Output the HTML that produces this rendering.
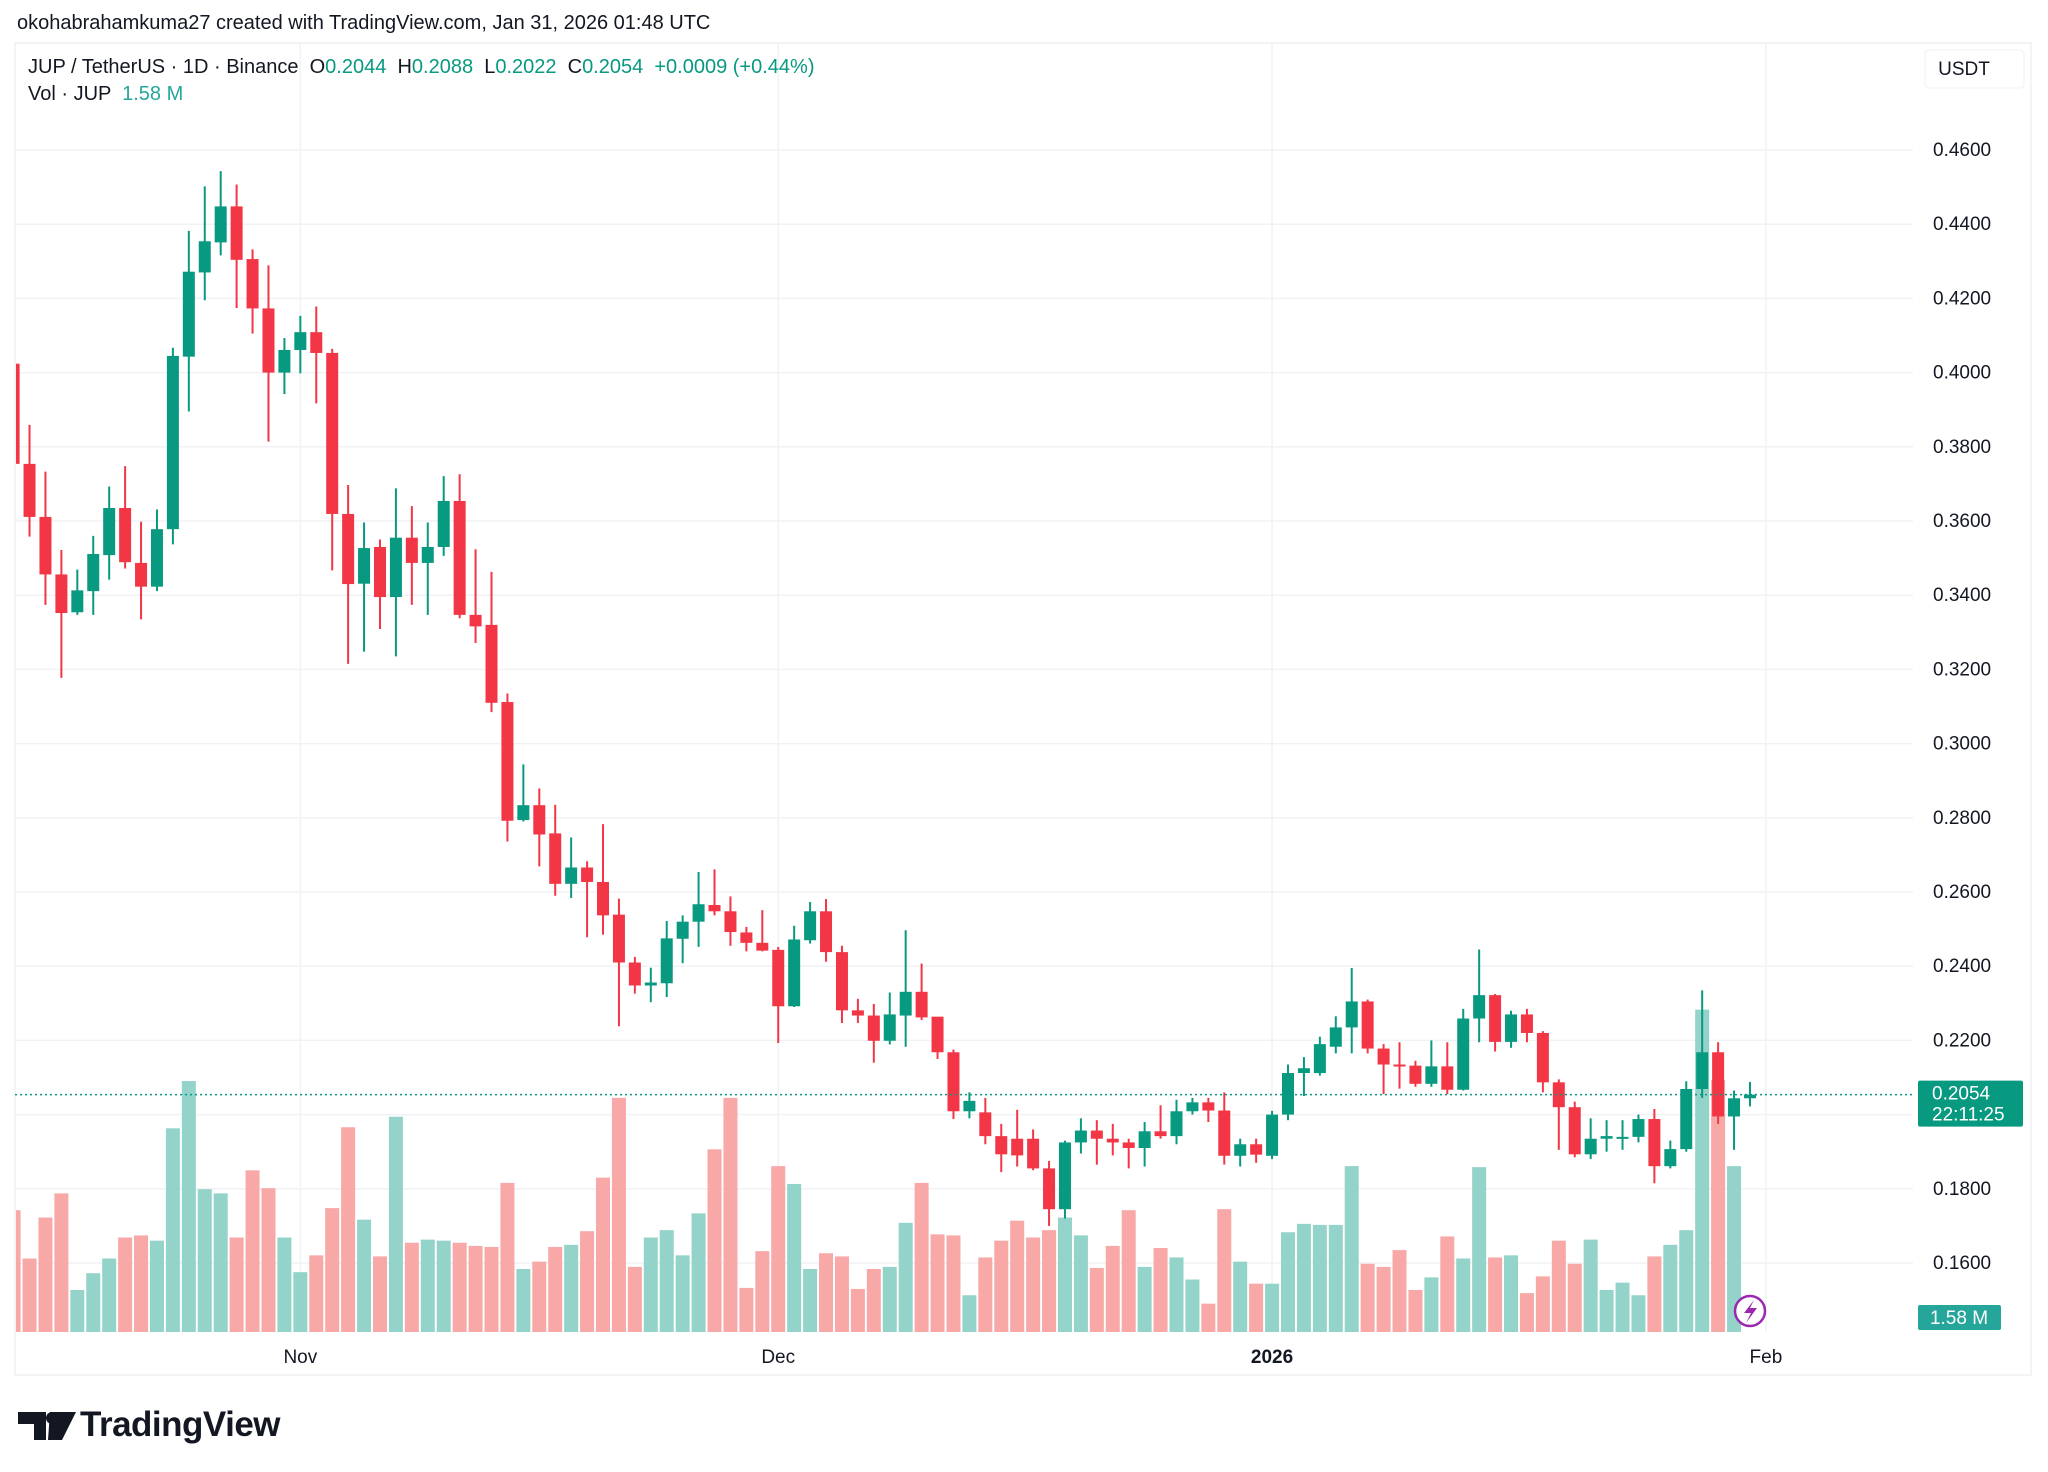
<!DOCTYPE html>
<html><head><meta charset="utf-8"><style>
body{margin:0;background:#fff;width:2048px;height:1472px;overflow:hidden;font-family:"Liberation Sans",sans-serif;}
</style></head><body>
<svg id="c" width="2048" height="1472" xmlns="http://www.w3.org/2000/svg" style="position:absolute;left:0;top:0;font-family:'Liberation Sans',sans-serif"><defs><clipPath id="plot"><rect x="16" y="44" width="1897" height="1288"/></clipPath></defs><g id="plotg" clip-path="url(#plot)"></g></svg>
<script>
const opens=[.4024,.3754,.3611,.3456,.3354,.3411,.3508,.3635,.3487,.3423,.3578,.4043,.427,.4351,.4448,.4306,.4173,.40,.4061,.4109,.4053,.3619,.3431,.353,.3395,.3555,.3487,.353,.3654,.3347,.332,.3112,.2794,.2834,.2758,.2622,.2666,.2627,.2539,.241,.2348,.2354,.2474,.252,.2565,.2548,.2491,.2463,.2444,.2292,.247,.2548,.2438,.2281,.2267,.2199,.2267,.2331,.2264,.2168,.2009,.2006,.1942,.1935,.1935,.1855,.1745,.1925,.1957,.1935,.1925,.191,.1955,.1942,.2009,.2033,.2011,.1889,.192,.1889,.2,.2112,.2112,.2183,.2235,.2305,.2178,.2135,.2132,.2083,.213,.2067,.2259,.2322,.2196,.227,.222,.2087,.202,.1893,.1935,.1935,.194,.1988,.1861,.1907,.2069,.2168,.1995,.2044];
const highs=[.4024,.3859,.3733,.3522,.3469,.356,.3693,.3748,.3598,.3631,.4067,.4382,.4502,.4543,.4507,.4332,.4289,.4093,.4153,.4178,.4064,.3697,.3596,.355,.3688,.364,.3596,.3721,.3726,.3524,.3463,.3135,.2944,.2879,.2835,.2747,.2683,.2783,.2582,.2425,.2396,.2522,.2537,.2654,.2661,.2588,.2506,.2551,.2452,.2509,.2573,.2581,.2455,.2312,.2298,.2329,.2497,.2407,.226,.2175,.206,.2045,.1975,.2013,.196,.1875,.193,.199,.1985,.1975,.1935,.198,.2025,.204,.2045,.2045,.206,.1935,.1935,.201,.2135,.2155,.221,.2265,.2395,.231,.219,.2195,.2145,.22,.2195,.2285,.2445,.2325,.228,.2285,.2225,.2095,.2035,.199,.1985,.1985,.2,.2015,.193,.209,.2335,.2195,.2065,.2088];
const lows=[.3754,.3558,.3374,.3177,.3347,.3347,.3442,.3472,.3335,.3411,.3537,.3895,.4195,.4316,.4174,.4105,.3814,.3942,.3998,.3917,.3467,.3215,.3248,.3309,.3235,.3374,.3347,.3506,.3338,.3271,.3085,.2736,.279,.2669,.259,.2584,.2478,.2485,.2238,.2326,.2303,.2317,.2408,.2452,.2537,.2455,.244,.244,.2193,.229,.2461,.2412,.2247,.2247,.214,.2189,.2183,.2255,.215,.1988,.199,.192,.1845,.186,.185,.170,.172,.1895,.1865,.189,.1855,.186,.1935,.192,.2,.198,.1865,.186,.187,.188,.1985,.205,.2105,.2165,.2165,.2165,.2055,.207,.2075,.2075,.2055,.2065,.2195,.217,.218,.2195,.206,.1905,.1885,.188,.19,.1905,.1925,.1815,.1855,.19,.2045,.1975,.1905,.2022];
const closes=[.3754,.3611,.3456,.3352,.3413,.3511,.3635,.3489,.3423,.3578,.4045,.4272,.4354,.4448,.4304,.4173,.40,.4061,.4109,.4053,.3619,.343,.3527,.3395,.3555,.3487,.353,.3654,.3347,.3316,.311,.2792,.2834,.2755,.2622,.2666,.2627,.2537,.241,.2348,.2356,.2475,.252,.2567,.2548,.2492,.2463,.2442,.2292,.2472,.2548,.2438,.2281,.2267,.2199,.227,.2331,.2262,.2168,.2009,.2037,.1942,.1893,.189,.1855,.1745,.1925,.1957,.1935,.1925,.191,.1955,.1942,.2009,.2033,.2011,.1889,.192,.1892,.2,.2112,.2125,.219,.2235,.2305,.2178,.2135,.2132,.2083,.213,.2067,.2259,.2322,.2196,.227,.222,.2087,.202,.1893,.1935,.1942,.194,.1988,.1861,.1907,.2069,.2168,.1995,.2044,.2054];
const volumes=[1.16,.70,1.09,1.32,.40,.56,.70,.90,.92,.87,1.94,2.39,1.36,1.32,.90,1.54,1.37,.90,.57,.73,1.18,1.95,1.07,.72,2.05,.85,.88,.87,.85,.82,.81,1.42,.60,.67,.81,.83,.96,1.47,2.23,.62,.90,.97,.73,1.13,1.74,2.23,.42,.77,1.58,1.41,.60,.75,.72,.41,.60,.62,1.04,1.42,.93,.92,.35,.71,.87,1.06,.90,.97,1.09,.92,.61,.82,1.16,.62,.80,.71,.50,.27,1.17,.67,.46,.46,.95,1.03,1.02,1.02,1.58,.65,.62,.78,.40,.52,.91,.70,1.57,.71,.73,.37,.53,.87,.65,.88,.40,.47,.35,.72,.83,.97,3.07,2.4,1.58,0];
const priceTicks=[0.46,0.44,0.42,0.40,0.38,0.36,0.34,0.32,0.30,0.28,0.26,0.24,0.22,0.18,0.16];
const dateLabels=["Nov","Dec","2026","Feb"];
const dateIdx=[18,48,79,110];
const lastPrice=0.2054;

const svg=document.getElementById('c');
const plotg=document.getElementById('plotg');
const NS='http://www.w3.org/2000/svg';
const X0=13.6, DX=15.93, PT=150, PB=1263;
const xs=i=>X0+i*DX;
const ys=p=>PT+(0.46-p)/0.30*(PB-PT);
const vy=v=>1332-v*105;
function el(t,a,txt,parent){const e=document.createElementNS(NS,t);for(const k in a)e.setAttribute(k,a[k]);if(txt!==undefined)e.textContent=txt;(parent||svg).appendChild(e);return e;}

let f=el('rect',{x:15,y:43,width:2016,height:1332,fill:'none',stroke:'#eef0f3','stroke-width':1.5});


priceTicks.concat([0.20]).forEach(p=>{
  const g=el('line',{x1:15,x2:1913,y1:ys(p),y2:ys(p),stroke:'#f0f2f5','stroke-width':1.5},undefined,plotg);
  
  
});
dateIdx.forEach(i=>{
  const g=el('line',{x1:xs(i),x2:xs(i),y1:43,y2:1332,stroke:'#f0f2f5','stroke-width':1.5},undefined,plotg);
  
  
});
volumes.forEach((v,i)=>{
  const up=closes[i]>=opens[i];
  const r=el('rect',{x:xs(i)-7,y:vy(v),width:14,height:1332-vy(v),fill:up?'#93d3c9':'#f7a8a7'},undefined,plotg);
  
  
});
opens.forEach((o,i)=>{
  const c=closes[i],up=c>=o,col=up?'#089981':'#f23645';
  const w=el('line',{x1:xs(i),x2:xs(i),y1:ys(highs[i]),y2:ys(lows[i]),stroke:col,'stroke-width':2},undefined,plotg);
  
  
  const t=Math.min(ys(o),ys(c)),h=Math.max(2,Math.abs(ys(o)-ys(c)));
  const b=el('rect',{x:xs(i)-6,y:t,width:12,height:h,fill:col},undefined,plotg);
  
  
});
let lp=el('line',{x1:15,x2:1913,y1:ys(lastPrice),y2:ys(lastPrice),stroke:'#089981','stroke-width':1.5,'stroke-dasharray':'2 3'});


priceTicks.forEach(p=>{
  const t=el('text',{x:1933,y:ys(p)+6,'font-size':19,fill:'#131722'},p.toFixed(4));
  
  
});
dateLabels.forEach((d,k)=>{
  const t=el('text',{x:xs(dateIdx[k]),y:1363,'font-size':19,fill:'#131722','text-anchor':'middle','font-weight':d==='2026'?'bold':'normal'},d);
  
  
});
let pb=el('rect',{x:1918,y:ys(lastPrice)-14,width:105,height:46,fill:'#089981',rx:2});


let pt=el('text',{x:1932,y:ys(lastPrice)+5,'font-size':19,fill:'#fff'},lastPrice.toFixed(4));


let ct=el('text',{x:1932,y:ys(lastPrice)+26,'font-size':19,fill:'#fff'},'22:11:25');


let vb=el('rect',{x:1918,y:1305,width:83,height:25,fill:'#26a69a',rx:2});


let vt=el('text',{x:1959,y:1324,'font-size':19,fill:'#fff','text-anchor':'middle'},'1.58 M');


let ub=el('rect',{x:1925,y:50,width:99,height:38,fill:'#fff',stroke:'#eef0f3',rx:4});


let ut=el('text',{x:1964,y:75,'font-size':19,fill:'#131722','text-anchor':'middle'},'USDT');


let lc=el('circle',{cx:1750,cy:1311,r:15,fill:'#fff',stroke:'#9c27b0','stroke-width':2.5});


let lz=el('path',{d:'M1754 1300 L1744 1313 L1751 1313 L1746 1323 L1757 1308 L1750 1308 Z',fill:'#9c27b0'});


let lg=el('path',{d:'M18 1412 H46 V1440 H34 V1424 H18 Z M50 1412 H76 L62 1440 H48 Z',fill:'#131722'});


let lgd=el('circle',{cx:52,cy:1418,r:6,fill:'#131722'});


</script>
<div style="position:absolute;left:17px;top:12px;font-size:20px;color:#131722">okohabrahamkuma27 created with TradingView.com, Jan 31, 2026 01:48 UTC</div>
<div style="position:absolute;left:28px;top:56px;font-size:20px;color:#131722;white-space:pre">JUP / TetherUS · 1D · Binance  O<span style="color:#089981">0.2044</span>  H<span style="color:#089981">0.2088</span>  L<span style="color:#089981">0.2022</span>  C<span style="color:#089981">0.2054</span>  <span style="color:#089981">+0.0009 (+0.44%)</span></div>
<div style="position:absolute;left:28px;top:83px;font-size:20px;color:#131722;white-space:pre">Vol · JUP  <span style="color:#26a69a">1.58 M</span></div>
<div style="position:absolute;left:80px;top:1405px;font-size:35px;font-weight:bold;color:#131722;letter-spacing:-0.5px">TradingView</div>
</body></html>
